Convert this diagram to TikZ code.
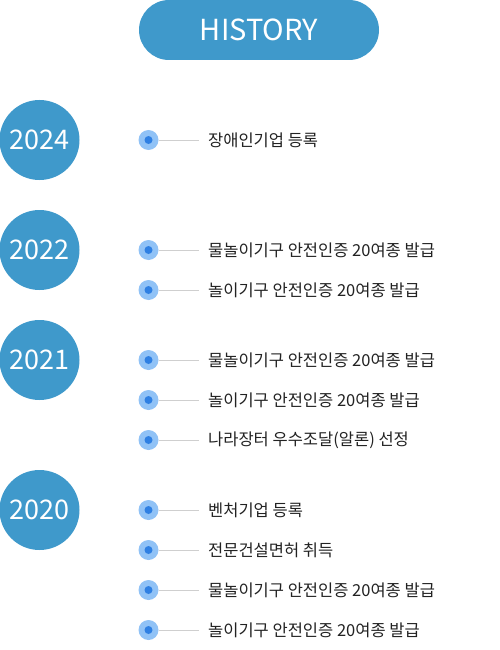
\documentclass[tikz,border=0pt]{standalone}
\usepackage{fontspec}
\setmainfont{Noto Sans CJK KR}
\usetikzlibrary{positioning}
\definecolor{histblue}{HTML}{3F99CB}
\definecolor{dotlight}{HTML}{90C2F6}
\definecolor{dotdark}{HTML}{2F80E3}
\definecolor{linegray}{HTML}{CFCFCF}
\definecolor{textdark}{HTML}{222222}

\begin{document}
\begin{tikzpicture}[x=1pt, y=-1pt,
    yearball/.style={circle, fill=histblue, minimum size=80pt, inner sep=0pt, text=white, font=\fontsize{27}{30}\selectfont},
    dotouter/.style={circle, fill=dotlight, minimum size=20pt, inner sep=0pt},
    itemtext/.style={anchor=west, inner sep=0pt, text=textdark, font=\fontsize{16.5}{19}\selectfont}]

    \useasboundingbox (0,0) rectangle (500,650);

    % Title
    \node[fill=histblue, rounded corners=30pt, minimum width=240pt, minimum height=60pt,
          text=white, font=\fontsize{29}{32}\selectfont] (title) at (259,30) {HISTORY};

    % Years
    \node[yearball] (y2024) at (39.5,140) {2024};
    \node[yearball] (y2022) at (39.5,250) {2022};
    \node[yearball] (y2021) at (39.5,360) {2021};
    \node[yearball] (y2020) at (39.5,510) {2020};

    % Items
    \foreach \n/\y/\txt in {
        1/140/장애인기업 등록,
        2/250/물놀이기구 안전인증 20여종 발급,
        3/290/놀이기구 안전인증 20여종 발급,
        4/360/물놀이기구 안전인증 20여종 발급,
        5/400/놀이기구 안전인증 20여종 발급,
        6/440/나라장터 우수조달(알론) 선정,
        7/510/벤처기업 등록,
        8/550/전문건설면허 취득,
        9/590/물놀이기구 안전인증 20여종 발급,
        10/630/놀이기구 안전인증 20여종 발급} {
        \node[dotouter] (dot\n) at (148.5,\y) {};
        \fill[dotdark] (dot\n.center) circle (4pt);
        \node[itemtext] (item\n) at (208,\y) {\txt};
        \draw[linegray, line width=0.8pt, shorten >=9pt] (dot\n.east) -- (item\n.west);
    }

\end{tikzpicture}
\end{document}
